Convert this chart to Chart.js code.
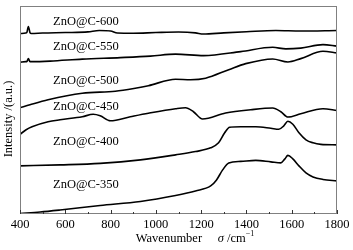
<!DOCTYPE html>
<html>
<head>
<meta charset="utf-8">
<script src="https://cdn.jsdelivr.net/npm/chart.js@4/dist/chart.umd.min.js"></script>
<style>
html,body{margin:0;padding:0;background:#fff;}
#wrap{width:353px;height:250px;position:relative;}
</style>
</head>
<body>
<div id="wrap"><canvas id="c" width="353" height="250"></canvas></div>
<script>
// ---- data (wavenumber, intensity in arbitrary offset units) ----
const seriesNames = ["ZnO@C-600","ZnO@C-550","ZnO@C-500","ZnO@C-450","ZnO@C-400","ZnO@C-350"];

const wn600  = [400,425,430,437,444,450,500,600,700,750,800,830,900,1000,1100,1175,1210,1300,1400,1530,1640,1800];
const int600 = [180,180.5,181,187,181,180,180.5,181,181.7,183,182.5,180.5,180.3,181,181.5,180.7,179.5,180.7,181.8,183,182.5,183];

const wn550  = [400,425,430,437,444,449,533,675,843,976,1087,1211,1375,1516,1574,1640,1738,1800];
const int550 = [151.5,152,152,155,152,152,152.5,154.5,156,157.5,159.5,158,162,166.3,164.7,165.5,169,167.5];

const wn500  = [400,444,524,675,821,909,967,1087,1153,1220,1322,1397,1516,1583,1640,1738,1800];
const int500 = [106,109,114,120.5,122.5,125.5,128,134.5,134,135.5,144,150,154.7,151.7,155,162.3,160.7];

const wn450  = [400,427,453,524,577,675,723,754,799,887,967,1087,1131,1166,1206,1308,1419,1516,1552,1583,1640,1738,1800];
const int450 = [79.5,84,87,92,94,97,99.5,98,93,97,100.5,105,106,102,94.7,100.7,104,105.7,102,96.7,100,105,103.2];

const wn400  = [400,577,754,932,1087,1175,1242,1277,1304,1326,1375,1441,1508,1543,1565,1583,1605,1632,1663,1694,1729,1800];
const int400 = [48,49,50.5,54,59,62.3,66,71,81,86.5,87,87,85.5,84.5,88,92.5,89.5,81,74,71,69.5,69];

const wn350  = [400,489,577,754,932,1087,1175,1242,1268,1295,1322,1375,1441,1508,1552,1570,1583,1605,1632,1663,1694,1738,1800];
const int350 = [0.5,2,4,8.5,12.5,18.5,23,28,34,44,51,52.5,53.5,52,51,55,58.5,55,48,41,37,34.5,33];

const xTickMin = 400, xTickMax = 1800, xTickStep = 100, xLabelStep = 200;

// ---- label anchors (in data units) ----
const labelAnchorX = 546;
const labelAnchorY = [192.3,167.3,133,107,72.3,29.7];

const wnList  = [wn600,wn550,wn500,wn450,wn400,wn350];
const intList = [int600,int550,int500,int450,int400,int350];

const datasets = seriesNames.map((n,i)=>({
  label:n,
  data: wnList[i].map((w,j)=>({x:w,y:intList[i][j]})),
  borderColor:'#000',
  borderWidth:1.6,
  pointRadius:0,
  showLine:true,
  cubicInterpolationMode:'monotone',
  fill:false
}));

const SERIF = '"Liberation Serif","DejaVu Serif",serif';

const decor = {
  id:'decor',
  afterDraw(chart){
    const {ctx, chartArea:a, scales:{x,y}} = chart;
    ctx.save();
    // frame
    ctx.strokeStyle='#808080';
    ctx.lineWidth=1;
    ctx.strokeRect(a.left+0.5,a.top+0.5,a.right-a.left-1,a.bottom-a.top-1);
    // ticks inward
    ctx.strokeStyle='#333';
    x.ticks.forEach(t=>{
      const px = Math.round(x.getPixelForValue(t.value))+0.5;
      const len = (t.value % xLabelStep === 0) ? 4 : 2;
      ctx.beginPath();
      ctx.moveTo(px,a.bottom);
      ctx.lineTo(px,a.bottom-len);
      ctx.stroke();
    });
    // curve labels
    ctx.fillStyle='#000';
    ctx.font='12.5px '+SERIF;
    ctx.textAlign='left';
    ctx.textBaseline='middle';
    seriesNames.forEach((n,i)=>{
      ctx.fillText(n, x.getPixelForValue(labelAnchorX), y.getPixelForValue(labelAnchorY[i]));
    });
    // x title with italic sigma
    const ty = 239;
    const parts = [
      {t:'Wavenumber', f:'12.5px '+SERIF, dy:0},
      {t:'     ', f:'12.5px '+SERIF, dy:0},
      {t:'σ', f:'italic 12.5px '+SERIF, dy:0},
      {t:' /cm', f:'12.5px '+SERIF, dy:0},
      {t:'−1', f:'8px '+SERIF, dy:-5}
    ];
    let total=0;
    parts.forEach(p=>{ctx.font=p.f; p.w=ctx.measureText(p.t).width; total+=p.w;});
    let cx = 195 - total/2;
    parts.forEach(p=>{ctx.font=p.f; ctx.fillText(p.t,cx,ty+p.dy); cx+=p.w;});
    // y title
    ctx.save();
    ctx.translate(8.5,119);
    ctx.rotate(-Math.PI/2);
    ctx.textAlign='center';
    ctx.font='12.5px '+SERIF;
    ctx.fillText('Intensity /(a.u.)',0,0);
    ctx.restore();
    ctx.restore();
  }
};

new Chart(document.getElementById('c'),{
  type:'scatter',
  data:{datasets},
  options:{
    responsive:false,
    animation:false,
    events:[],
    layout:{padding:{left:20,right:16,top:6,bottom:0}},
    plugins:{legend:{display:false},tooltip:{enabled:false}},
    scales:{
      x:{
        type:'linear',
        min:xTickMin,max:xTickMax,
        grid:{display:false,drawTicks:false},
        border:{display:false},
        ticks:{
          stepSize:xTickStep,
          autoSkip:false,
          maxRotation:0,
          padding:3,
          color:'#000',
          font:{family:SERIF,size:12.5},
          callback:(v)=> (v % xLabelStep === 0) ? String(v) : ''
        },
        afterFit(s){ s.height = 36; }
      },
      y:{
        display:false,
        min:0,max:207.5
      }
    }
  },
  plugins:[decor]
});
</script>
</body>
</html>
